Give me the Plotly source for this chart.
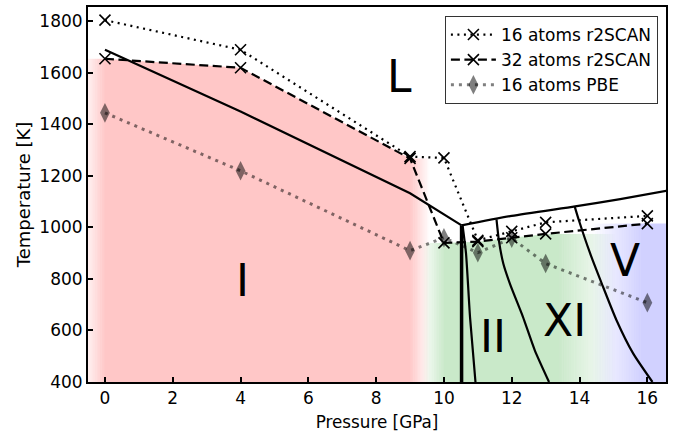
import numpy as np
import plotly.graph_objects as go

# ---------------- data ----------------
pressure = [0, 4, 9, 10, 11, 12, 13, 16]
t16_r2scan = [1805, 1690, 1275, 1270, 950, 985, 1020, 1045]
t32_r2scan = [1655, 1620, 1268, 940, 945, 960, 975, 1015]
t16_pbe = [1445, 1220, 910, 960, 902, 958, 860, 708]

# phase boundaries (pressure, temperature)
melt_I_p = [0.0, 4.0, 9.0, 10.52]
melt_I_t = [1690, 1450, 1133, 1008]
melt_hi_p = [10.52, 12.0, 13.87, 15.2, 16.6]
melt_hi_t = [1008, 1045, 1082, 1110, 1143]
b_I_II_p = [10.52, 10.52]
b_I_II_t = [400, 1008]
b_II_a_p = [10.55, 10.65, 10.77, 10.93]
b_II_a_t = [1007, 900, 650, 400]
b_II_XI_p = [11.55, 11.62, 11.75, 11.95, 12.33, 12.68, 13.1]
b_II_XI_t = [1031, 950, 860, 780, 653, 523, 400]
b_XI_V_p = [13.86, 13.98, 14.31, 14.65, 15.09, 15.58, 16.15]
b_XI_V_t = [1080, 1028, 900, 784, 640, 511, 400]

phase_names = ["L", "I", "II", "XI", "V"]
phase_label_p = [8.7, 4.07, 11.45, 13.55, 15.35]
phase_label_t = [1585, 795, 575, 640, 870]

x_ticks = [0, 2, 4, 6, 8, 10, 12, 14, 16]
y_ticks = [400, 600, 800, 1000, 1200, 1400, 1600, 1800]

# ---------------- styling ----------------
X_RANGE = [-0.5, 16.55]
Y_RANGE = [400, 1856]
FONT = "DejaVu Sans"

# phase shading: rgb, alpha, fade-in start, full from, full to, fade-out end, anchor range, start alpha factor
shading = [
    dict(rgb=(255, 0, 0), a=0.22, x0=-0.5, f0=0.0, f1=9.0, x1=9.6, anc=(0, 9), a_start=0.25),
    dict(rgb=(0, 150, 0), a=0.21, x0=9.35, f0=10.0, f1=13.4, x1=15.1, anc=(10, 13), a_start=0.0),
    dict(rgb=(0, 0, 255), a=0.18, x0=14.3, f0=15.8, f1=16.6, x1=16.6, anc=(16, 16), a_start=0.0),
]

fig = go.Figure()


def top_of(x, anc):
    return float(np.interp(np.clip(x, anc[0], anc[1]), pressure, t32_r2scan))


def add_stripe(xa, xb, rgb, alpha, anc):
    ya, yb = top_of(xa, anc), top_of(xb, anc)
    xs = [xa, xa]
    ys = [Y_RANGE[0], ya]
    for p in pressure:
        if xa < p < xb:
            xs.append(p)
            ys.append(top_of(p, anc))
    xs += [xb, xb]
    ys += [yb, Y_RANGE[0]]
    fig.add_trace(go.Scatter(
        x=xs, y=ys, fill="toself", mode="lines", line=dict(width=0),
        fillcolor="rgba(%d,%d,%d,%.4f)" % (rgb + (alpha,)),
        hoverinfo="skip", showlegend=False))


step = 0.05
for s in shading:
    if s["f0"] > s["x0"]:
        n = int(round((s["f0"] - s["x0"]) / step))
        for i in range(n):
            xa = s["x0"] + i * step
            xb = xa + step
            frac = s["a_start"] + (1 - s["a_start"]) * (i + 0.5) / n
            add_stripe(xa, xb, s["rgb"], s["a"] * frac, s["anc"])
    add_stripe(s["f0"], s["f1"], s["rgb"], s["a"], s["anc"])
    if s["x1"] > s["f1"]:
        n = int(round((s["x1"] - s["f1"]) / step))
        for i in range(n):
            xa = s["f1"] + i * step
            xb = xa + step
            frac = 1 - (i + 0.5) / n
            add_stripe(xa, xb, s["rgb"], s["a"] * frac, s["anc"])

# phase boundaries
for px, ty, w, shp in [(melt_I_p, melt_I_t, 2.2, "linear"), (melt_hi_p, melt_hi_t, 2.2, "spline"),
                       (b_I_II_p, b_I_II_t, 3.5, "linear"), (b_II_a_p, b_II_a_t, 2.2, "spline"),
                       (b_II_XI_p, b_II_XI_t, 2.2, "spline"), (b_XI_V_p, b_XI_V_t, 2.2, "spline")]:
    fig.add_trace(go.Scatter(x=px, y=ty, mode="lines",
                             line=dict(color="black", width=w, shape=shp, smoothing=0.6),
                             hoverinfo="skip", showlegend=False))

# series
fig.add_trace(go.Scatter(
    x=pressure, y=t16_r2scan, mode="lines+markers", name="16 atoms r2SCAN",
    line=dict(color="black", width=2.2, dash="2px,4.5px"),
    marker=dict(symbol="x-thin", size=11, color="black", line=dict(color="black", width=1.6))))
fig.add_trace(go.Scatter(
    x=pressure, y=t32_r2scan, mode="lines+markers", name="32 atoms r2SCAN",
    line=dict(color="black", width=2.2, dash="9px,4.5px"),
    marker=dict(symbol="x-thin", size=11, color="black", line=dict(color="black", width=1.6))))
fig.add_trace(go.Scatter(
    x=pressure, y=t16_pbe, mode="lines+markers", name="16 atoms PBE",
    line=dict(color="rgba(0,0,0,0.5)", width=3, dash="3px,5px"),
    marker=dict(symbol="diamond-tall", size=14, color="rgba(0,0,0,0.5)", line=dict(width=0))))

for name, px, ty in zip(phase_names, phase_label_p, phase_label_t):
    fig.add_annotation(x=px, y=ty, text=name, showarrow=False,
                       font=dict(family=FONT, size=44, color="black"))

axis_common = dict(showgrid=False, zeroline=False, ticks="inside", ticklen=5, tickwidth=1.5,
                   tickcolor="black", showline=True, linecolor="black", linewidth=2,
                   mirror=True, automargin=False,
                   tickfont=dict(family=FONT, size=17, color="black"))
fig.update_xaxes(range=X_RANGE, tickvals=x_ticks, title=dict(text="Pressure [GPa]", standoff=9,
                 font=dict(family=FONT, size=16.8, color="black")), **axis_common)
fig.update_yaxes(range=Y_RANGE, tickvals=y_ticks, title=dict(text="Temperature [K]", standoff=4,
                 font=dict(family=FONT, size=18, color="black")), **axis_common)

fig.update_layout(
    width=674, height=433,
    margin=dict(l=88, r=8, t=7, b=51),
    plot_bgcolor="white", paper_bgcolor="white",
    font=dict(family=FONT, size=17, color="black"),
    legend=dict(x=0.986, y=0.976, xanchor="right", yanchor="top",
                bgcolor="rgba(255,255,255,0.9)", bordercolor="#333", borderwidth=1,
                font=dict(family=FONT, size=17, color="black"),
                itemwidth=45, tracegroupgap=0),
)

fig.write_html("out.html", config={"displayModeBar": False},
               post_script="document.body.style.margin='0px';")
